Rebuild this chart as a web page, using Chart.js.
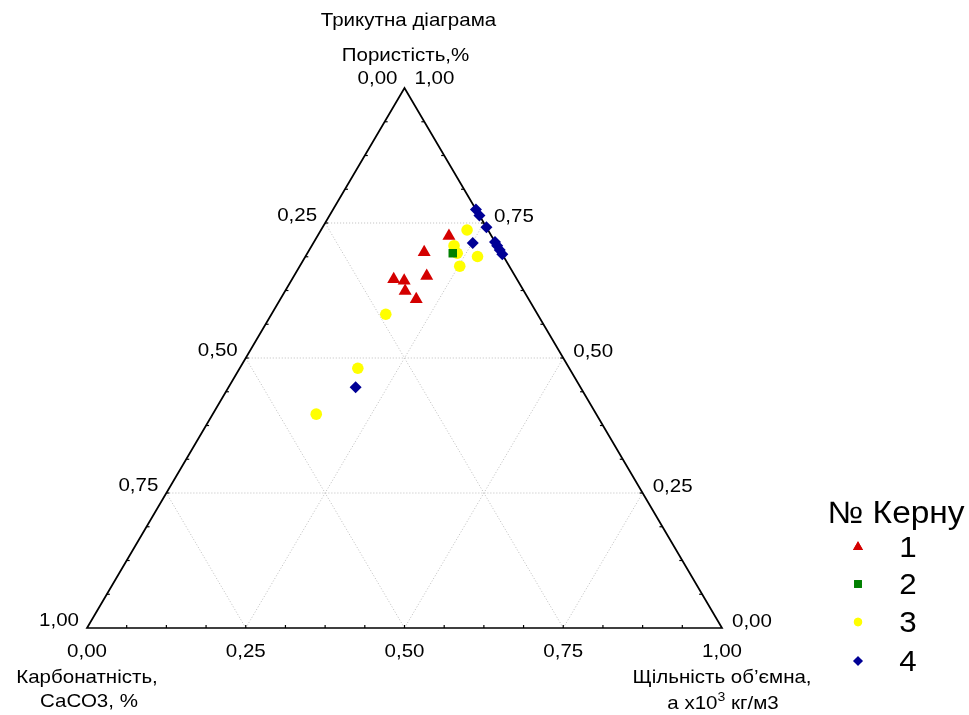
<!DOCTYPE html>
<html>
<head>
<meta charset="utf-8">
<script src="https://cdn.jsdelivr.net/npm/chart.js@4.4.0/dist/chart.umd.min.js"></script>
<style>
  html, body { margin: 0; padding: 0; background: #ffffff; }
  #wrap { width: 969px; height: 715px; position: relative; }
</style>
</head>
<body>
<div id="wrap"><canvas id="c"></canvas></div>
<script>
// Ternary composition of each core sample: porosity (top vertex),
// carbonate CaCO3 (bottom-left vertex), bulk density (bottom-right vertex).
const seriesNames = ['1', '2', '3', '4'];

const core1Porosity  = [0.726, 0.696, 0.652, 0.646, 0.643, 0.624, 0.609];
const core1Carbonate = [0.067, 0.121, 0.139, 0.194, 0.179, 0.187, 0.177];
const core1Density   = [0.207, 0.183, 0.209, 0.160, 0.178, 0.189, 0.214];

const core2Porosity  = [0.694];
const core2Carbonate = [0.077];
const core2Density   = [0.229];

const core3Porosity  = [0.737, 0.708, 0.694, 0.688, 0.670, 0.581, 0.481, 0.396];
const core3Carbonate = [0.033, 0.068, 0.070, 0.041, 0.078, 0.239, 0.333, 0.441];
const core3Density   = [0.230, 0.224, 0.236, 0.271, 0.252, 0.180, 0.186, 0.163];

const core4Porosity  = [0.775, 0.764, 0.742, 0.713, 0.715, 0.708, 0.700, 0.692, 0.446];
const core4Carbonate = [0.000, 0.000, 0.000, 0.036, 0.000, 0.000, 0.000, 0.000, 0.354];
const core4Density   = [0.225, 0.236, 0.258, 0.251, 0.285, 0.292, 0.300, 0.308, 0.200];

const tickValues = [0, 0.25, 0.5, 0.75, 1];
const minorStep = 1 / 16;

const titleText = 'Трикутна діаграма';
const topAxisTitle = 'Пористість,%';
const leftAxisTitle = ['Карбонатність,', 'СаСО3, %'];
const rightAxisTitle = ['Щільність об\u2019ємна,', 'а x10', '3', ' кг/м3'];
const legendTitle = '№ Керну';

const FONT = '"Liberation Sans", Arial, sans-serif';
const STRETCH = 1.08;
const fmt = v => v.toFixed(2).replace('.', ',');

// Cartesian position inside the triangle: x runs 0..1 along the base, y = porosity
function toXY(p, c, d) {
  const s = p + c + d;
  const P = p / s, D = d / s;
  return { x: D + P / 2, y: P };
}
function buildPoints(P, C, D) {
  return P.map((p, i) => toXY(p, C[i], D[i]));
}

// text drawn slightly widened horizontally
function txt(ctx, s, x, y, align, size) {
  ctx.save();
  ctx.font = size + 'px ' + FONT;
  ctx.textBaseline = 'middle';
  ctx.textAlign = align;
  ctx.translate(x, y);
  ctx.scale(STRETCH, 1);
  ctx.fillText(s, 0, 0);
  ctx.restore();
}
function textWidth(ctx, s, size) {
  ctx.save();
  ctx.font = size + 'px ' + FONT;
  const w = ctx.measureText(s).width * STRETCH;
  ctx.restore();
  return w;
}

const ternaryFrame = {
  id: 'ternaryFrame',
  beforeDatasetsDraw(chart) {
    const { ctx, scales: { x, y } } = chart;
    const pt = (p, d) => [x.getPixelForValue(d + p / 2), y.getPixelForValue(p)];
    const line = (a, b) => { ctx.beginPath(); ctx.moveTo(a[0], a[1]); ctx.lineTo(b[0], b[1]); ctx.stroke(); };

    ctx.save();
    // dotted grid of the three component families
    ctx.strokeStyle = '#bdbdbd';
    ctx.lineWidth = 1;
    ctx.setLineDash([1, 2]);
    for (const k of tickValues.slice(1, -1)) {
      line(pt(k, 0), pt(k, 1 - k));
      line(pt(0, k), pt(1 - k, k));
      line(pt(0, 1 - k), pt(1 - k, 0));
    }
    ctx.setLineDash([]);

    // triangle outline
    const top = pt(1, 0), bl = pt(0, 0), br = pt(0, 1);
    ctx.strokeStyle = '#000000';
    ctx.lineWidth = 1.7;
    ctx.lineJoin = 'miter';
    ctx.beginPath();
    ctx.moveTo(top[0], top[1]);
    ctx.lineTo(bl[0], bl[1]);
    ctx.lineTo(br[0], br[1]);
    ctx.closePath();
    ctx.stroke();

    // small inward ticks along each edge
    ctx.lineWidth = 1.2;
    for (let t = minorStep; t < 1 - 1e-9; t += minorStep) {
      const b = pt(0, t);
      line(b, [b[0], b[1] - 3]);
      const l = pt(t, 0);
      line(l, [l[0] + 3, l[1]]);
      const r = pt(t, 1 - t);
      line(r, [r[0] - 3, r[1]]);
    }

    // tick labels
    ctx.fillStyle = '#000000';
    const fs = 19;
    for (const v of tickValues) {
      // left edge: carbonate, 0 at top, 1 at bottom-left
      if (v > 0) {
        const l = pt(1 - v, 0);
        txt(ctx, fmt(v), l[0] - 8, l[1] - 7, 'right', fs);
      }
      // right edge: porosity, 1 at top, 0 at bottom-right
      if (v < 1) {
        const r = pt(v, 1 - v);
        txt(ctx, fmt(v), r[0] + 10, r[1] - 6, 'left', fs);
      }
      // base: density, 0 at left, 1 at right
      const b = pt(0, v);
      txt(ctx, fmt(v), b[0], b[1] + 24, 'center', fs);
    }
    // labels at the apex
    txt(ctx, fmt(0), top[0] - 7, top[1] - 9, 'right', fs);
    txt(ctx, fmt(1), top[0] + 10, top[1] - 9, 'left', fs);

    // titles
    txt(ctx, topAxisTitle, top[0] + 1, top[1] - 32, 'center', fs);
    txt(ctx, titleText, top[0] + 4, top[1] - 67, 'center', fs);
    txt(ctx, leftAxisTitle[0], bl[0], bl[1] + 50, 'center', fs);
    txt(ctx, leftAxisTitle[1], bl[0] + 2, bl[1] + 74, 'center', fs);
    txt(ctx, rightAxisTitle[0], br[0], br[1] + 50, 'center', fs);

    // second line of the density title with superscript
    const main1 = rightAxisTitle[1], sup = rightAxisTitle[2], main2 = rightAxisTitle[3];
    const w1 = textWidth(ctx, main1, fs), w2 = textWidth(ctx, sup, 13), w3 = textWidth(ctx, main2, fs);
    const sx = br[0] + 1 - (w1 + w2 + w3) / 2;
    const by = br[1] + 76;
    txt(ctx, main1, sx, by, 'left', fs);
    txt(ctx, sup, sx + w1, by - 7, 'left', 13);
    txt(ctx, main2, sx + w1 + w2, by, 'left', fs);
    ctx.restore();
  },
  afterDraw(chart) {
    const { ctx } = chart;
    ctx.save();
    ctx.fillStyle = '#000000';
    txt(ctx, legendTitle, 896, 514, 'center', 31);
    const rowY = [547, 584, 622, 661];
    chart.data.datasets.forEach((ds, i) => {
      const cy = rowY[i];
      ctx.fillStyle = ds.backgroundColor;
      Chart.helpers.drawPoint(ctx, {
        pointStyle: ds.pointStyle,
        radius: ds.legendRadius,
        rotation: 0,
        borderWidth: 0
      }, 858, cy);
      ctx.fill();
      ctx.fillStyle = '#000000';
      txt(ctx, ds.label, 908, cy + 2, 'center', 29);
    });
    ctx.restore();
  }
};

const datasets = [
  { label: seriesNames[0], data: buildPoints(core1Porosity, core1Carbonate, core1Density),
    pointStyle: 'triangle', backgroundColor: '#d40000', borderColor: '#d40000', pointRadius: 7.5, legendRadius: 5.8 },
  { label: seriesNames[1], data: buildPoints(core2Porosity, core2Carbonate, core2Density),
    pointStyle: 'rect', backgroundColor: '#008000', borderColor: '#008000', pointRadius: 6, legendRadius: 5.5 },
  { label: seriesNames[2], data: buildPoints(core3Porosity, core3Carbonate, core3Density),
    pointStyle: 'circle', backgroundColor: '#ffff00', borderColor: '#ffff00', pointRadius: 5.8, legendRadius: 4.2 },
  { label: seriesNames[3], data: buildPoints(core4Porosity, core4Carbonate, core4Density),
    pointStyle: 'rectRot', backgroundColor: '#000096', borderColor: '#000096', pointRadius: 6, legendRadius: 4.8 }
].map(d => Object.assign(d, { borderWidth: 0, showLine: false }));

new Chart(document.getElementById('c'), {
  type: 'scatter',
  data: { datasets },
  options: {
    responsive: true,
    maintainAspectRatio: false,
    animation: false,
    layout: { padding: { left: 87, right: 247, top: 88, bottom: 87 } },
    scales: {
      x: { type: 'linear', min: 0, max: 1, display: false },
      y: { type: 'linear', min: 0, max: 1, display: false }
    },
    plugins: {
      legend: { display: false },
      tooltip: { enabled: false },
      title: { display: false }
    }
  },
  plugins: [ternaryFrame]
});
</script>
</body>
</html>
